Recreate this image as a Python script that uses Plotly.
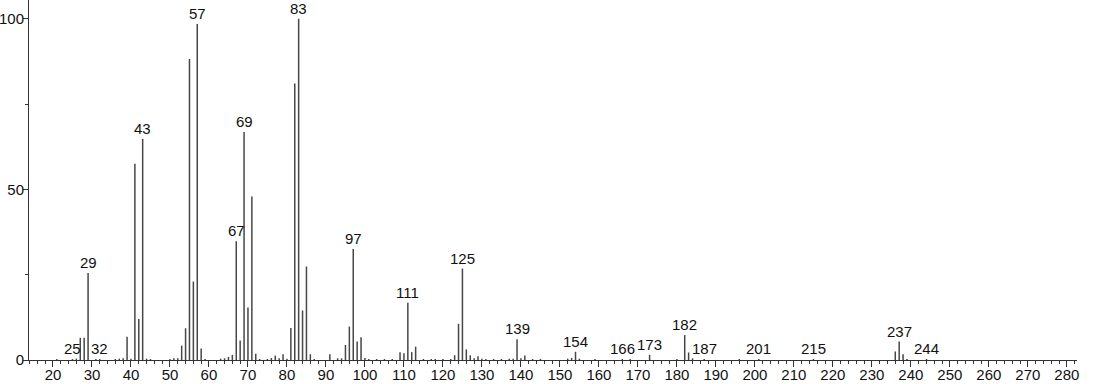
import plotly.graph_objects as go

# m/z values and relative intensities
mz = [21, 25, 26, 27, 28, 29, 31, 32, 36, 37, 38, 39, 40, 41, 42, 43, 44, 45,
      50, 51, 52, 53, 54, 55, 56, 57, 58, 59, 63, 64, 65, 66, 67, 68, 69, 70,
      71, 72, 73, 75, 76, 77, 78, 79, 80, 81, 82, 83, 84, 85, 86, 87, 91, 93,
      94, 95, 96, 97, 98, 99, 100, 101, 103, 105, 107, 109, 110, 111, 112, 113,
      115, 117, 118, 120, 122, 123, 124, 125, 126, 127, 128, 129, 130, 131,
      133, 135, 137, 138, 139, 140, 141, 143, 145, 152, 153, 154, 155, 159,
      166, 168, 173, 180, 182, 183, 184, 187, 196, 201, 215, 236, 237, 238,
      239, 244]
intensity = [0.3, 0.3, 0.4, 6.5, 6.5, 25.5, 0.3, 0.3, 0.3, 0.4, 0.5, 6.8, 0.4,
             57.5, 12.0, 64.8, 0.4, 0.3,
             0.3, 0.5, 0.5, 4.2, 9.3, 88.2, 23.0, 98.5, 3.4, 0.3, 0.4, 0.5, 0.9,
             1.5, 34.8, 5.7, 66.8, 15.4,
             47.9, 1.8, 0.3, 0.3, 0.6, 1.3, 0.5, 1.7, 0.4, 9.4, 81.0, 100.0,
             14.5, 27.4, 1.7, 0.3, 1.7, 0.5,
             0.5, 4.4, 9.8, 32.5, 5.4, 6.7, 0.6, 0.3, 0.3, 0.3, 0.3, 2.3, 2.0,
             16.8, 2.3, 3.9,
             0.3, 0.3, 0.3, 0.3, 0.3, 1.4, 10.6, 26.8, 3.1, 1.4, 0.5, 1.1, 0.4,
             0.3,
             0.3, 0.3, 0.4, 0.4, 6.1, 0.5, 1.3, 0.3, 0.3, 0.4, 0.6, 2.4, 0.4, 0.3,
             0.3, 0.3, 1.5, 0.3, 7.3, 2.2, 0.5, 0.3, 0.3, 0.3, 0.3, 2.5, 5.4, 1.7,
             0.3, 0.3]

# labelled peaks
label_mz = [25, 29, 32, 43, 57, 67, 69, 83, 97, 111, 125, 139, 154, 166, 173,
            182, 187, 201, 215, 237, 244]

x_ticks = list(range(20, 290, 10))
y_ticks = [0, 50, 100]

FONT = "Liberation Sans, Arial, sans-serif"

# build stick segments
xs, ys = [], []
for m, v in zip(mz, intensity):
    xs += [m, m, None]
    ys += [0, v, None]

fig = go.Figure()
fig.add_trace(go.Scatter(x=xs, y=ys, mode="lines",
                         line=dict(color="#474747", width=1.5),
                         hoverinfo="skip", showlegend=False))

lookup = dict(zip(mz, intensity))
for m in label_mz:
    fig.add_annotation(x=m, y=lookup.get(m, 0.3), text=str(m),
                       showarrow=False, yanchor="bottom", xanchor="center",
                       yshift=0,
                       font=dict(family=FONT, size=15, color="#111111"))

fig.update_layout(
    width=1094, height=384,
    margin=dict(l=29, r=17, t=0, b=24, autoexpand=False),
    paper_bgcolor="white", plot_bgcolor="white",
    font=dict(family=FONT, size=15, color="#111111"),
    showlegend=False,
)
fig.update_xaxes(range=[13.85, 282.6], tickvals=x_ticks,
                 ticktext=[str(t) for t in x_ticks], automargin=False,
                 ticks="outside", ticklen=6, tickcolor="#333333", tickwidth=1,
                 ticklabelstandoff=-5,
                 showline=True, linecolor="#333333", linewidth=1,
                 showgrid=False, zeroline=False,
                 minor=dict(dtick=2, tick0=0, ticks="outside", ticklen=3,
                            tickcolor="#333333", showgrid=False))
fig.update_yaxes(range=[0, 105.5], tickvals=y_ticks, automargin=False,
                 ticks="outside", ticklen=5, tickcolor="#333333", tickwidth=1,
                 ticklabelstandoff=-4,
                 showline=True, linecolor="#333333", linewidth=1,
                 showgrid=False, zeroline=False,
                 minor=dict(dtick=25, tick0=0, ticks="outside", ticklen=3,
                            tickcolor="#333333", showgrid=False))

fig.write_html("out.html")
